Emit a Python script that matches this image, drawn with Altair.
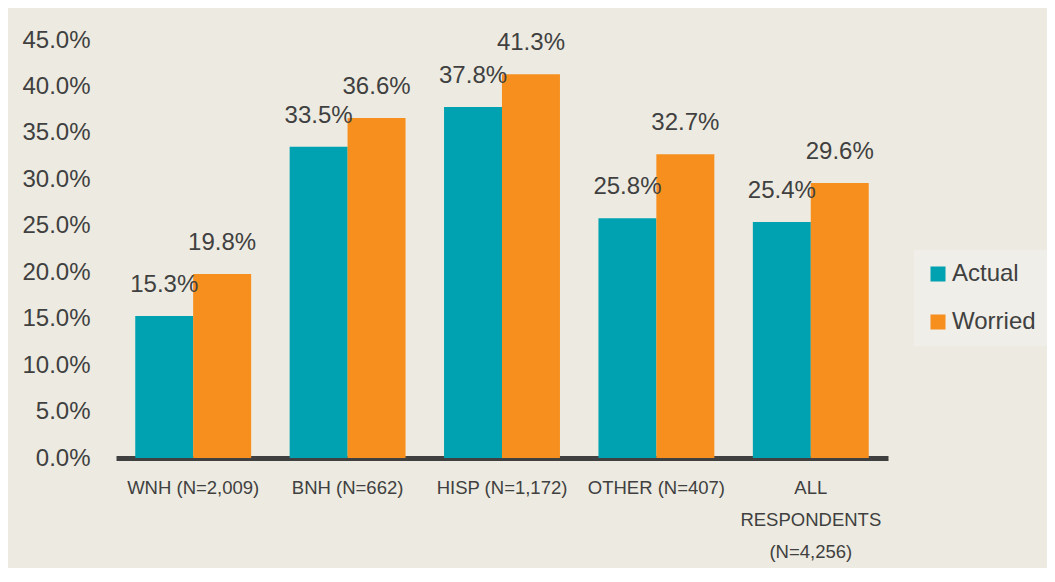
import altair as alt
import pandas as pd

categories = ["WNH (N=2,009)", "BNH (N=662)", "HISP (N=1,172)", "OTHER (N=407)",
              "ALL\nRESPONDENTS\n(N=4,256)"]
actual = [15.3, 33.5, 37.8, 25.8, 25.4]
worried = [19.8, 36.6, 41.3, 32.7, 29.6]
series = ["Actual", "Worried"]
colors = ["#00a1b0", "#f78f1e"]
y_ticks = [0, 5, 10, 15, 20, 25, 30, 35, 40, 45]

rows = []
for c, a, w in zip(categories, actual, worried):
    rows.append({"cat": c, "series": "Actual", "value": a})
    rows.append({"cat": c, "series": "Worried", "value": w})
df = pd.DataFrame(rows)

FONT = "Liberation Sans"
TXT = "#404040"
BG = "#edebe1"

x = alt.X("cat:N", sort=categories, title=None,
          scale=alt.Scale(paddingInner=0.25, paddingOuter=0.125),
          axis=alt.Axis(labelAngle=0, labelExpr="split(datum.label, '\\n')",
                        labelFontSize=18.5, labelColor=TXT, labelFont=FONT,
                        labelPadding=20, labelLineHeight=32, labelBaseline="top",
                        ticks=False, domainColor="#404040", domainWidth=5,
                        labelLimit=300))
xoff = alt.XOffset("series:N", sort=series, scale=alt.Scale(paddingInner=0, paddingOuter=0))
y = alt.Y("value:Q", title=None,
          scale=alt.Scale(domain=[0, 45], nice=False),
          axis=alt.Axis(values=y_ticks, labelExpr="format(datum.value, '.1f') + '%'",
                        labelFontSize=24, labelColor=TXT, labelFont=FONT,
                        ticks=False, domain=False, grid=False, labelPadding=26))

color = alt.Color("series:N", sort=series, title=None,
                  scale=alt.Scale(domain=series, range=colors),
                  legend=alt.Legend(orient="none", legendX=798, legendY=210,
                                    symbolType="square", symbolSize=225,
                                    symbolStrokeWidth=0,
                                    labelFontSize=24, labelColor=TXT, labelFont=FONT,
                                    rowPadding=24, padding=12, fillColor="#efeee8",
                                    labelOffset=2))

bars = alt.Chart(df).mark_bar(size=58).encode(x=x, xOffset=xoff, y=y, color=color)
labels = alt.Chart(df).transform_calculate(
    lbl="format(datum.value, '.1f') + '%'"
).mark_text(fontSize=24, font=FONT, color=TXT, baseline="middle", dy=-31).encode(
    x=alt.X("cat:N", sort=categories), xOffset=alt.XOffset("series:N", sort=series),
    y="value:Q",
    text="lbl:N")

chart = alt.layer(bars, labels).properties(
    width=772, height=418,
    autosize=alt.AutoSizeParams(type="none"),
    padding={"left": 108, "top": 32, "right": 159, "bottom": 110},
    background=BG,
).configure_view(stroke=None, fill=BG)

chart.save("out.html", embed_options={"renderer": "svg", "actions": False})
